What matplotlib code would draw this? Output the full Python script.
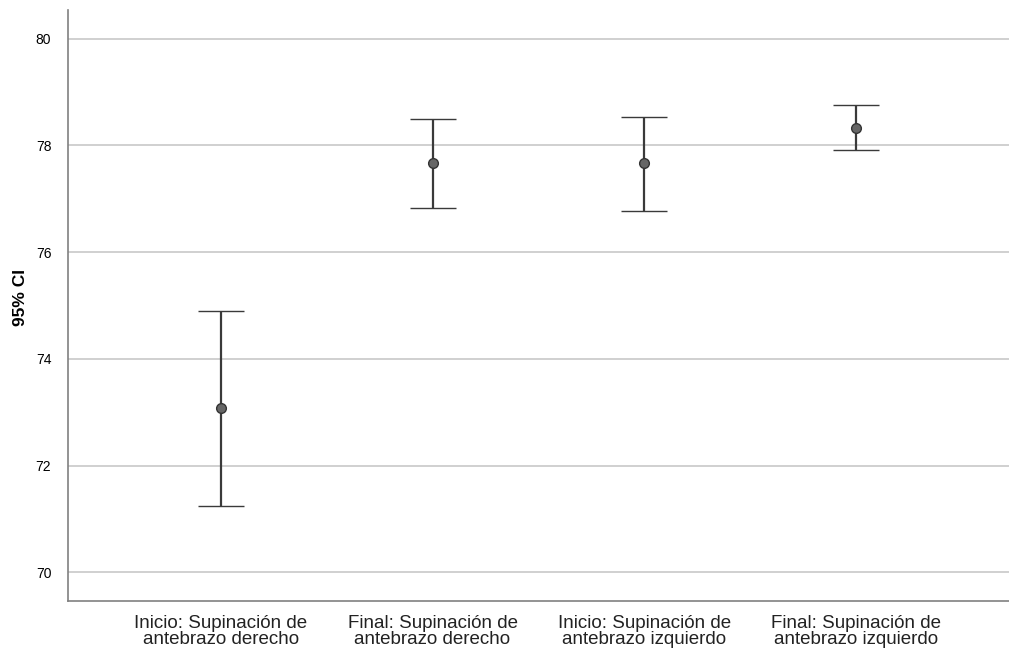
import matplotlib.pyplot as plt
import numpy as np

categories = ["Inicio: Supinación de\nantebrazo derecho",
              "Final: Supinación de\nantebrazo derecho",
              "Inicio: Supinación de\nantebrazo izquierdo",
              "Final: Supinación de\nantebrazo izquierdo"]
means = [73.07, 77.67, 77.67, 78.33]
lower = [71.24, 76.82, 76.78, 77.91]
upper = [74.89, 78.50, 78.54, 78.76]

plt.rcParams['font.family'] = ['Liberation Sans', 'DejaVu Sans']

fig = plt.figure(figsize=(10.09, 6.58), dpi=100)
ax = fig.add_axes([68/1009, 57/658, 1 - 68/1009, (601-10)/658])

x = np.arange(len(categories))
m = np.array(means)
yerr = [m - np.array(lower), np.array(upper) - m]
ax.errorbar(x, m, yerr=yerr, fmt='o', color='#3a3a3a', ecolor='#3a3a3a',
            elinewidth=1.6, capsize=16.5, capthick=1.6,
            markersize=7, markerfacecolor='#666666', markeredgecolor='#333333',
            markeredgewidth=1, zorder=3)

ax.set_xlim(-0.72, 3.72)
ax.set_ylim(69.46, 80.54)
ax.set_yticks([70, 72, 74, 76, 78, 80])
ax.set_xticks(x)
ax.set_xticklabels(categories, fontsize=13.5, color='#222222', linespacing=0.92)
ax.tick_params(axis='both', length=0)
ax.tick_params(axis='y', labelsize=10, pad=12)
ax.tick_params(axis='x', pad=10)
ax.yaxis.grid(True, color='#c8c8c8', linewidth=1.2)
ax.set_axisbelow(True)
for s in ['top', 'right']:
    ax.spines[s].set_visible(False)
for s in ['left', 'bottom']:
    ax.spines[s].set_color('#808080')
    ax.spines[s].set_linewidth(1.2)
ax.set_ylabel('95% CI', fontsize=12.5, fontweight='bold')
ax.yaxis.set_label_coords(-0.0425, 0.514)

plt.savefig('out.png', dpi=100)
